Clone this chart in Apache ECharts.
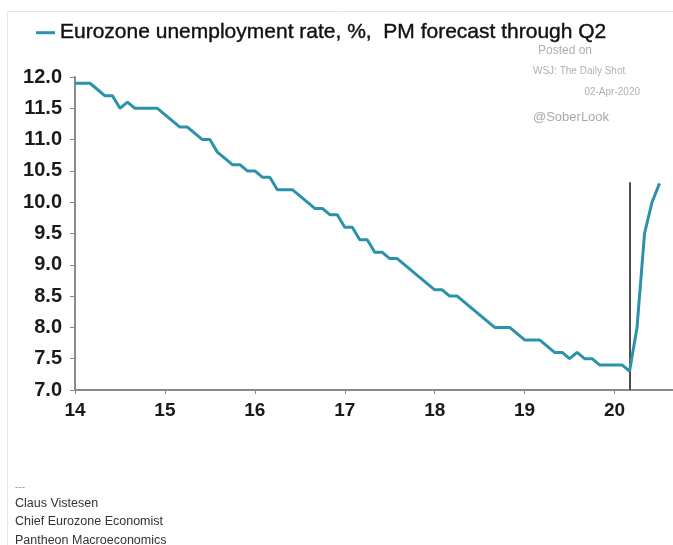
<!DOCTYPE html>
<html>
<head>
<meta charset="utf-8">
<script src="https://cdn.jsdelivr.net/npm/echarts@6/dist/echarts.min.js"></script>
<style>
  html, body { margin: 0; padding: 0; background: #ffffff; }
  #chart { width: 673px; height: 545px; }
</style>
</head>
<body>
<div id="chart"></div>
<script>
// Eurozone unemployment rate, monthly from Jan 2014, with Pantheon forecast through Q2 2020
const seriesName = 'Eurozone unemployment rate, %,  PM forecast through Q2';
const startYear = 14;          // axis values are two-digit years
const unemployment = [
  11.9, 11.9, 11.9, 11.8, 11.7, 11.7, 11.5, 11.6, 11.5, 11.5, 11.5, 11.5, // 2014
  11.4, 11.3, 11.2, 11.2, 11.1, 11.0, 11.0, 10.8, 10.7, 10.6, 10.6, 10.5, // 2015
  10.5, 10.4, 10.4, 10.2, 10.2, 10.2, 10.1, 10.0, 9.9, 9.9, 9.8, 9.8,     // 2016
  9.6, 9.6, 9.4, 9.4, 9.2, 9.2, 9.1, 9.1, 9.0, 8.9, 8.8, 8.7,             // 2017
  8.6, 8.6, 8.5, 8.5, 8.4, 8.3, 8.2, 8.1, 8.0, 8.0, 8.0, 7.9,             // 2018
  7.8, 7.8, 7.8, 7.7, 7.6, 7.6, 7.5, 7.6, 7.5, 7.5, 7.4, 7.4,             // 2019
  7.4, 7.4, 7.3, 8.0, 9.5, 10.0, 10.3                                     // 2020
];
// forecast start marker: month index in the series and the height of the rule
const forecastStartIndex = 74;
const forecastRuleTop = 10.32;
const yTicks = [7.0, 7.5, 8.0, 8.5, 9.0, 9.5, 10.0, 10.5, 11.0, 11.5, 12.0];
const xTicks = [14, 15, 16, 17, 18, 19, 20];
const watermark = ['Posted on', 'WSJ: The Daily Shot', '02-Apr-2020', '@SoberLook'];
const credits = ['---', 'Claus Vistesen', 'Chief Eurozone Economist', 'Pantheon Macroeconomics'];

const toYear = i => startYear + i / 12;
const points = unemployment.map((v, i) => [toYear(i), v]);

const lineColor = '#2a93ab';
const axisColor = '#8a8a8a';
const labelFont = '"Liberation Sans", Arial, sans-serif';
const noteFont = '12.5px "Liberation Sans", Arial, sans-serif';

const chart = echarts.init(document.getElementById('chart'), null, { renderer: 'canvas' });

chart.setOption({
  backgroundColor: '#ffffff',
  animation: false,
  legend: {
    left: 31,
    top: 17,
    itemWidth: 19,
    itemHeight: 3,
    itemGap: 6,
    icon: 'rect',
    textStyle: {
      fontFamily: labelFont, fontSize: 21, color: '#111111',
      textBorderColor: '#111111', textBorderWidth: 0.4
    },
    data: [seriesName]
  },
  grid: { left: 75, right: 0, top: 77, bottom: 155, containLabel: false },
  xAxis: {
    type: 'value',
    min: xTicks[0],
    max: 20.65,
    interval: 1,
    axisLine: { show: true, onZero: false, lineStyle: { color: axisColor, width: 2 } },
    axisTick: { show: true, length: 4, lineStyle: { color: axisColor, width: 1 } },
    splitLine: { show: false },
    axisLabel: {
      showMaxLabel: false,
      margin: 11,
      fontFamily: labelFont,
      fontSize: 19,
      fontWeight: 'bold',
      color: '#1a1a1a',
      formatter: v => (xTicks.indexOf(v) >= 0 ? String(v) : '')
    }
  },
  yAxis: {
    type: 'value',
    min: yTicks[0],
    max: yTicks[yTicks.length - 1],
    interval: 0.5,
    axisLine: { show: true, lineStyle: { color: axisColor, width: 2 } },
    axisTick: { show: true, length: 5, lineStyle: { color: axisColor, width: 1 } },
    splitLine: { show: false },
    axisLabel: {
      margin: 13,
      fontFamily: labelFont,
      fontSize: 20,
      fontWeight: 'bold',
      color: '#1a1a1a',
      formatter: v => v.toFixed(1)
    }
  },
  series: [{
    name: seriesName,
    type: 'line',
    data: points,
    showSymbol: false,
    symbol: 'none',
    lineStyle: { color: lineColor, width: 3 },
    itemStyle: { color: lineColor },
    z: 3,
    markLine: {
      silent: true,
      symbol: ['none', 'none'],
      label: { show: false },
      lineStyle: { color: '#4d4d4d', width: 2, type: 'solid' },
      data: [[
        { coord: [toYear(forecastStartIndex), yTicks[0]] },
        { coord: [toYear(forecastStartIndex), forecastRuleTop] }
      ]],
      z: 2
    }
  }],
  graphic: [
    // light frame around the panel
    { type: 'rect', shape: { x: 7.5, y: 11.5, width: 1000, height: 1000 },
      style: { fill: 'none', stroke: '#e6e6e6', lineWidth: 1 }, silent: true, z: -1 },
    { type: 'text', left: 538, top: 45, style: { text: watermark[0], fill: '#b0b0b0', font: '12px "Liberation Sans", Arial, sans-serif' } },
    { type: 'text', left: 533, top: 66, style: { text: watermark[1], fill: '#b0b0b0', font: '10px "Liberation Sans", Arial, sans-serif' } },
    { type: 'text', right: 33, top: 87, style: { text: watermark[2], fill: '#b0b0b0', font: '10px "Liberation Sans", Arial, sans-serif' } },
    { type: 'text', left: 533, top: 111, style: { text: watermark[3], fill: '#a8a8a8', font: '13px "Liberation Sans", Arial, sans-serif' } },
    { type: 'text', left: 15, top: 482, style: { text: credits[0], fill: '#999999', font: '10px "Liberation Sans", Arial, sans-serif' } },
    { type: 'text', left: 15, top: 497, style: { text: credits[1], fill: '#333333', font: noteFont } },
    { type: 'text', left: 15, top: 515, style: { text: credits[2], fill: '#333333', font: noteFont } },
    { type: 'text', left: 15, top: 534, style: { text: credits[3], fill: '#333333', font: noteFont } }
  ]
});
</script>
</body>
</html>
